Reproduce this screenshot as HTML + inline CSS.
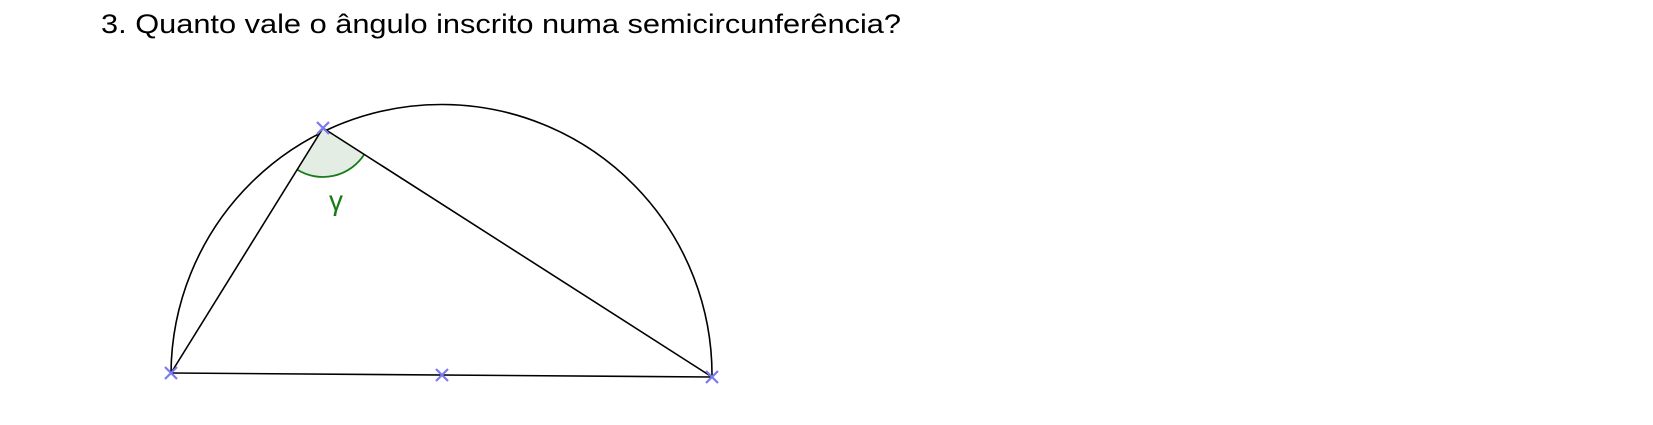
<!DOCTYPE html>
<html><head><meta charset="utf-8"><style>
html,body{margin:0;padding:0;background:#fff;}
svg{display:block;}
</style></head><body>
<svg width="1653" height="425" viewBox="0 0 1653 425" xmlns="http://www.w3.org/2000/svg">
<text x="101" y="33" font-family="'Liberation Sans',sans-serif" font-size="27" fill="#000" textLength="800" lengthAdjust="spacingAndGlyphs">3.  Quanto vale o ângulo inscrito numa semicircunferência?</text>
<path d="M171,373 A270.5,270.5 0 0 1 712,377" fill="none" stroke="#000" stroke-width="1.6"/>
<path id="angle" fill="#e3ede3" stroke="none"/>
<path id="anglearc" fill="none" stroke="#1a7a1a" stroke-width="1.8"/>
<line x1="171" y1="373" x2="712" y2="377" stroke="#000" stroke-width="1.6"/>
<line x1="171" y1="373" x2="323" y2="128" stroke="#000" stroke-width="1.6"/>
<line x1="323" y1="128" x2="712" y2="377" stroke="#000" stroke-width="1.6"/>
<text x="336" y="210" font-family="'Liberation Sans',sans-serif" font-size="28" fill="#1a7a1a" text-anchor="middle">γ</text>
<g stroke="#7b7bf0" stroke-width="2.2">
<path d="M165,367 l12,12 M177,367 l-12,12"/>
<path d="M436,369 l12,12 M448,369 l-12,12"/>
<path d="M706,371 l12,12 M718,371 l-12,12"/>
<path d="M317,122 l12,12 M329,122 l-12,12"/>
</g>
<script>
var vx=323,vy=128,r=49;
function pt(tx,ty){var dx=tx-vx,dy=ty-vy,l=Math.hypot(dx,dy);return [vx+dx/l*r,vy+dy/l*r];}
var a=pt(171,373),b=pt(712,377);
document.getElementById('angle').setAttribute('d','M'+vx+','+vy+' L'+a[0]+','+a[1]+' A'+r+','+r+' 0 0 0 '+b[0]+','+b[1]+' Z');
document.getElementById('anglearc').setAttribute('d','M'+a[0]+','+a[1]+' A'+r+','+r+' 0 0 0 '+b[0]+','+b[1]);
</script>
</svg>
</body></html>
